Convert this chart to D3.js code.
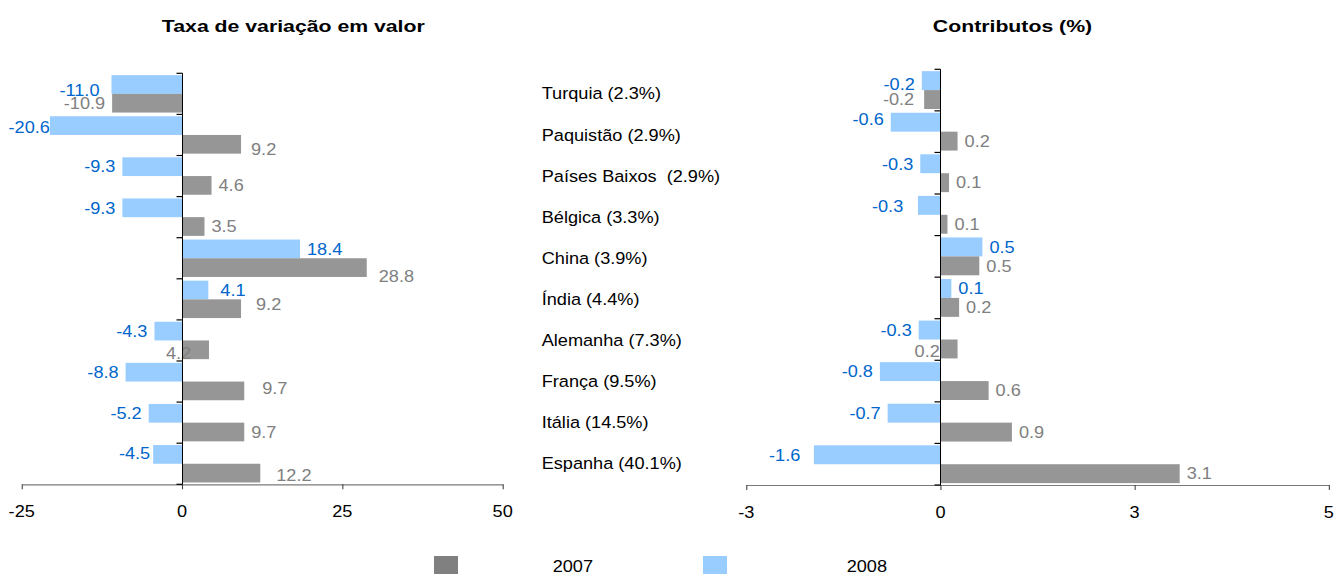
<!DOCTYPE html>
<html><head><meta charset="utf-8">
<script src="https://cdn.jsdelivr.net/npm/d3@7"></script>
<style>
body{margin:0;background:#fff}
svg{display:block}
text{font-family:"Liberation Sans",Arial,Helvetica,sans-serif;white-space:pre}
</style>
</head><body>
<svg id="chart" width="1335" height="574"></svg>
<script>
// ---------- data ----------
const categories = ["Turquia (2.3%)", "Paquistão (2.9%)", "Países Baixos  (2.9%)", "Bélgica (3.3%)", "China (3.9%)", "Índia (4.4%)", "Alemanha (7.3%)", "França (9.5%)", "Itália (14.5%)", "Espanha (40.1%)"];
const seriesNames = ["2007", "2008"];
const variation2007 = [-10.9, 9.2, 4.6, 3.5, 28.8, 9.2, 4.2, 9.7, 9.7, 12.2];
const variation2008 = [-11.0, -20.6, -9.3, -9.3, 18.4, 4.1, -4.3, -8.8, -5.2, -4.5];
const contrib2007 = [-0.21, 0.22, 0.11, 0.09, 0.50, 0.24, 0.22, 0.62, 0.92, 3.08];
const contrib2008 = [-0.24, -0.64, -0.26, -0.29, 0.54, 0.14, -0.28, -0.78, -0.68, -1.63];
const variationTicks = [-25, 0, 25, 50];
const variationTickLabels = ["-25", "0", "25", "50"];
const contribTicks = [-2.5, 0, 2.5, 5];
const contribTickLabels = ["-3", "0", "3", "5"];
const titles = ["Taxa de variação em valor", "Contributos (%)"];

// ---------- layout / style ----------
const colors = {"2007": "#969696", "2008": "#99CCFF"};
const legendColors = {"2007": "#808080", "2008": "#99CCFF"};
const labelColors = {"2007": "#808080", "2008": "#0066CC"};
const FS = 16.5, SX = 1.1;          // regular text size and horizontal stretch
const TFS = 17, TSX = 1.25;         // title text
const fmt = d3.formatLocale({decimal: ".", thousands: ",", grouping: [3], currency: ["", ""], minus: "-"}).format(".1f");
// manual label nudges (as in the original chart)
const nudges = {
  "L-2008-0": [-5, 5.5], "L-2008-1": [7, 2], "L-2007-1": [3, 5], "L-2007-4": [5, 9],
  "L-2008-5": [5, 0], "L-2007-5": [8, -5], "L-2007-6": [-50, 3.5], "L-2007-7": [11, -3],
  "L-2008-9": [4, -1], "L-2007-9": [9, 2.5],
  "R-2008-0": [0, 3.5], "R-2007-0": [-3, 0], "R-2008-1": [0, -3], "R-2008-3": [-7.7, 1],
  "R-2007-6": [-50, 2], "R-2008-9": [-6.6, 0]
};

const svg = d3.select("#chart");

function txt(g, x, y, s, o) {
  o = o || {};
  return g.append("text")
    .attr("transform", `translate(${x},${y}) scale(${o.sx || SX},1)`)
    .attr("text-anchor", o.anchor || "start")
    .attr("font-size", o.fs || FS)
    .attr("font-weight", o.bold ? "bold" : "normal")
    .attr("fill", o.fill || "#000")
    .text(s);
}

function panel(cfg) {
  const g = svg.append("g");
  const x = d3.scaleLinear().domain(cfg.domain).range(cfg.xRange);
  const y = d3.scaleBand().domain(categories).range(cfg.yRange);
  const bw = y.bandwidth();
  const barH = bw * 0.455, off = bw * 0.045;
  const series = [{name: "2008", vals: cfg.v2008, slot: 0}, {name: "2007", vals: cfg.v2007, slot: 1}];

  series.forEach(s => {
    g.selectAll(null).data(s.vals).enter().append("rect")
      .attr("x", d => x(Math.min(0, d)))
      .attr("width", d => Math.abs(x(d) - x(0)))
      .attr("y", (d, i) => y(categories[i]) + off + s.slot * barH)
      .attr("height", barH)
      .attr("fill", colors[s.name]);
  });

  // value labels
  series.forEach(s => {
    s.vals.forEach((v, i) => {
      const cy = y(categories[i]) + off + s.slot * barH + barH / 2;
      const n = nudges[`${cfg.key}-${s.name}-${i}`] || [0, 0];
      const xe = x(v);
      const pos = v >= 0;
      txt(g, (pos ? xe + 7 : xe - 7) + n[0], cy + 5.8 + n[1], fmt(v),
        {anchor: pos ? "start" : "end", fill: labelColors[s.name]});
    });
  });

  // bottom axis
  const ax = g.append("g").attr("transform", `translate(0,${cfg.yRange[1]})`)
    .call(d3.axisBottom(x).tickValues(cfg.ticks).tickFormat("").tickSize(5).tickSizeOuter(0));
  ax.select(".domain").attr("stroke", "#7a7a7a").attr("stroke-width", 1.2);
  ax.selectAll(".tick line").attr("stroke", "#333");
  cfg.ticks.forEach((t, i) => txt(g, x(t), cfg.yRange[1] + 33, cfg.tickLabels[i], {anchor: "middle"}));

  // vertical axis at zero with category boundary ticks
  const x0 = Math.round(x(0)) + 0.5;
  g.append("line").attr("x1", x0).attr("x2", x0).attr("y1", cfg.yRange[0]).attr("y2", cfg.yRange[1])
    .attr("stroke", "#000").attr("stroke-width", 1);
  const edges = categories.map(c => y(c)).concat([cfg.yRange[1]]);
  g.selectAll(null).data(edges).enter().append("line")
    .attr("x1", x0 - 6).attr("x2", x0).attr("y1", d => d).attr("y2", d => d)
    .attr("stroke", "#000").attr("stroke-width", 1.2);

  // title
  txt(g, cfg.titleX, 31.7, cfg.title, {anchor: "middle", bold: true, fs: TFS, sx: TSX});
  return y;
}

const yL = panel({key: "L", domain: [-25, 50], xRange: [21.7, 502.7], yRange: [73.3, 484.3],
  v2007: variation2007, v2008: variation2008, ticks: variationTicks, tickLabels: variationTickLabels,
  title: titles[0], titleX: 293.3});
panel({key: "R", domain: [-2.5, 5], xRange: [746.3, 1328.8], yRange: [69.3, 485],
  v2007: contrib2007, v2008: contrib2008, ticks: contribTicks, tickLabels: contribTickLabels,
  title: titles[1], titleX: 1012.5});

// category labels (middle column)
categories.forEach(c => {
  txt(svg, 541.7, yL(c) + yL.bandwidth() / 2 + 5.6, c);
});

// legend
const legendX = [{box: 434, text: 552.7}, {box: 703, text: 846.7}];
seriesNames.forEach((s, i) => {
  svg.append("rect").attr("x", legendX[i].box).attr("y", 556).attr("width", 24).attr("height", 20)
    .attr("fill", legendColors[s]);
  txt(svg, legendX[i].text, 571.5, s);
});
</script>
</body></html>
